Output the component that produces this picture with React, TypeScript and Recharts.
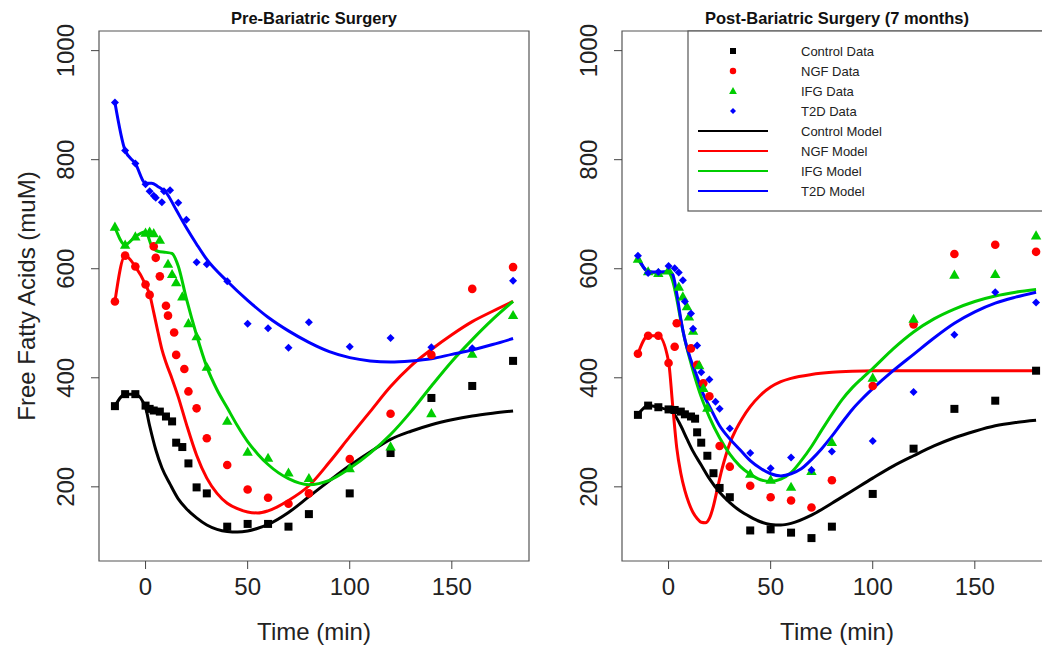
import React from "react";
import { ComposedChart, Scatter, Line, XAxis, YAxis, ReferenceArea } from "recharts";

const FONT = '"Liberation Sans", Arial, Helvetica, sans-serif';
const X_DOMAIN: [number, number] = [-22.8, 187.8];
const Y_DOMAIN: [number, number] = [64, 1036];
const X_TICKS = [0, 50, 100, 150];
const Y_TICKS = [200, 400, 600, 800, 1000];

type Pair = [number, number];

// ---- Pre-surgery data [time, FFA] ----
const preControlData: Pair[] = [
  [-15, 348], [-10, 370], [-5, 370], [0, 349], [2, 343], [4, 340], [7, 338], [10, 329], [13, 320],
  [15, 281], [18, 273], [21, 243], [25, 199], [30, 188], [40, 127], [50, 132], [60, 132], [70, 127],
  [80, 150], [100, 188], [120, 262], [140, 363], [160, 385], [180, 431],
];
const preNgfData: Pair[] = [
  [-15, 540], [-10, 624], [-5, 604], [0, 571], [2, 552], [4, 641], [5, 620], [7, 586], [10, 532],
  [11, 514], [14, 483], [15, 442], [19, 416], [21, 375], [25, 344], [30, 289], [40, 240], [50, 195],
  [60, 180], [70, 169], [80, 188], [100, 251], [120, 334], [140, 442], [160, 563], [180, 603],
];
const preIfgData: Pair[] = [
  [-15, 677], [-10, 644], [-5, 659], [0, 666], [2, 668], [4, 665], [7, 653], [11, 609], [13, 590],
  [15, 575], [18, 549], [21, 500], [25, 476], [30, 420], [40, 321], [50, 264], [60, 253], [70, 226],
  [80, 216], [100, 234], [120, 274], [140, 335], [160, 444], [180, 515],
];
const preT2dData: Pair[] = [
  [-15, 905], [-10, 817], [-5, 793], [0, 755], [2, 742], [4, 734], [5, 730], [8, 722], [9, 742],
  [12, 744], [16, 721], [20, 690], [25, 612], [30, 608], [40, 577], [50, 499], [60, 491], [70, 455],
  [80, 502], [100, 457], [120, 473], [140, 456], [160, 454], [180, 578],
];

// ---- Pre-surgery model curves ----
const preControlModel: Pair[] = [
  [-15, 348], [-10, 370], [-5, 370], [0, 345], [2, 312], [5, 268], [8, 235], [12, 205], [16, 178],
  [20, 160], [25, 143], [30, 130], [35, 122], [40, 118], [45, 117], [50, 119], [55, 124], [60, 131],
  [70, 153], [80, 182], [90, 211], [100, 239], [110, 264], [120, 287], [130, 302], [140, 314],
  [150, 323], [160, 330], [170, 335], [180, 339],
];
const preNgfModel: Pair[] = [
  [-15, 540], [-10, 624], [-5, 604], [0, 571], [2, 553], [4, 520], [6, 485], [8, 452], [10, 428],
  [13, 398], [16, 365], [20, 315], [25, 258], [30, 216], [35, 188], [40, 170], [45, 160], [50, 154],
  [55, 152], [60, 156], [70, 175], [80, 202], [90, 245], [100, 292], [110, 338], [120, 384],
  [130, 422], [140, 452], [150, 479], [160, 503], [170, 522], [180, 540],
];
const preIfgModel: Pair[] = [
  [-15, 676], [-10, 644], [-5, 659], [0, 668], [3, 642], [6, 632], [10, 630], [13, 628], [16, 605],
  [20, 545], [25, 478], [30, 420], [35, 378], [40, 345], [45, 312], [50, 283], [55, 260], [60, 241],
  [70, 215], [80, 204], [90, 212], [100, 234], [110, 262], [120, 296], [130, 338], [140, 385],
  [150, 430], [160, 470], [170, 507], [180, 540],
];
const preT2dModel: Pair[] = [
  [-15, 905], [-10, 817], [-5, 793], [0, 757], [3, 757], [6, 751], [10, 740], [15, 708], [20, 675],
  [25, 645], [30, 617], [40, 577], [50, 542], [60, 511], [70, 486], [80, 465], [90, 448], [100, 437],
  [110, 431], [120, 429], [130, 431], [140, 435], [150, 443], [160, 451], [170, 461], [180, 472],
];

// ---- Post-surgery data ----
const postControlData: Pair[] = [
  [-15, 332], [-10, 349], [-5, 346], [0, 342], [3, 341], [6, 338], [8, 333], [11, 329], [13, 325],
  [14, 300], [16, 281], [19, 257], [22, 225], [25, 198], [30, 181], [40, 120], [50, 122], [60, 116],
  [70, 106], [80, 127], [100, 187], [120, 270], [140, 343], [160, 358], [180, 413],
];
const postNgfData: Pair[] = [
  [-15, 444], [-10, 477], [-5, 477], [0, 427], [3, 457], [4, 500], [11, 454], [14, 424], [17, 390],
  [20, 366], [25, 275], [30, 237], [40, 202], [50, 181], [60, 175], [70, 162], [80, 212], [100, 385],
  [120, 498], [140, 627], [160, 644], [180, 631],
];
const postIfgData: Pair[] = [
  [-15, 618], [-10, 595], [-5, 592], [0, 598], [5, 567], [7, 549], [9, 531], [10, 512], [12, 486],
  [15, 423], [17, 381], [19, 345], [40, 224], [50, 213], [60, 200], [70, 229], [80, 282], [100, 400],
  [120, 508], [140, 589], [160, 590], [180, 661],
];
const postT2dData: Pair[] = [
  [-15, 624], [-10, 592], [-5, 594], [0, 605], [3, 601], [5, 593], [7, 579], [8, 540], [11, 518],
  [12, 490], [14, 459], [16, 410], [20, 397], [23, 356], [25, 343], [30, 307], [40, 262], [50, 234],
  [60, 254], [70, 231], [80, 265], [100, 284], [120, 374], [140, 479], [160, 557], [180, 538],
];

// ---- Post-surgery model curves ----
const postControlModel: Pair[] = [
  [-15, 332], [-10, 349], [-5, 346], [0, 340], [3, 332], [6, 312], [9, 288], [12, 265], [16, 240],
  [20, 215], [25, 190], [30, 171], [35, 156], [40, 145], [45, 136], [50, 131], [55, 130], [60, 133],
  [70, 148], [80, 170], [90, 193], [100, 216], [110, 238], [120, 257], [130, 275], [140, 290],
  [150, 302], [160, 312], [170, 318], [180, 322],
];
const postNgfModel: Pair[] = [
  [-15, 444], [-10, 477], [-5, 477], [0, 430], [2, 350], [4, 272], [6, 225], [8, 193], [10, 170],
  [12, 153], [14, 142], [16, 135], [18, 134], [20, 142], [22, 165], [24, 198], [26, 230], [28, 257],
  [30, 280], [33, 305], [36, 325], [40, 347], [45, 368], [50, 383], [55, 393], [60, 399], [70, 406],
  [80, 410], [90, 412], [100, 413], [120, 413], [140, 413], [160, 413], [180, 413],
];
const postIfgModel: Pair[] = [
  [-15, 618], [-10, 595], [-5, 592], [0, 592], [2, 578], [4, 545], [6, 505], [8, 470], [10, 440],
  [13, 400], [16, 365], [20, 328], [25, 290], [30, 260], [35, 238], [40, 223], [45, 213], [50, 210],
  [55, 214], [60, 226], [65, 248], [70, 274], [75, 304], [80, 333], [85, 360], [90, 382], [95, 400],
  [100, 417], [110, 453], [120, 484], [130, 508], [140, 526], [150, 540], [160, 550], [170, 557],
  [180, 562],
];
const postT2dModel: Pair[] = [
  [-15, 622], [-10, 595], [-5, 594], [0, 595], [2, 590], [4, 555], [6, 508], [8, 470], [11, 432],
  [14, 402], [17, 370], [20, 348], [25, 312], [30, 288], [35, 268], [40, 248], [45, 234], [50, 224],
  [55, 220], [60, 224], [65, 233], [70, 250], [75, 270], [80, 293], [85, 318], [90, 342], [95, 362],
  [100, 380], [110, 413], [120, 443], [130, 473], [140, 500], [150, 521], [160, 537], [170, 548],
  [180, 557],
];

const GROUPS = ["Control", "NGF", "IFG", "T2D"];
const COLORS = ["#000000", "#ff0000", "#00cd00", "#0000ff"];
const SHAPES = ["square", "circle", "triangle", "diamond"];

const toPts = (arr: Pair[]) => arr.map(([t, v]) => ({ t, v }));

function marker(shape: string, cx: number, cy: number, color: string, k = 1) {
  if (shape === "square") {
    const h = 4 * k;
    return <rect x={cx - h} y={cy - h} width={2 * h} height={2 * h} fill={color} />;
  }
  if (shape === "circle") return <circle cx={cx} cy={cy} r={4.3 * k} fill={color} />;
  if (shape === "triangle") {
    const s = 5.2 * k;
    return (
      <path
        d={`M${cx},${cy - s}L${cx + s},${cy + s * 0.75}L${cx - s},${cy + s * 0.75}Z`}
        fill={color}
      />
    );
  }
  const d = 4 * k;
  return <path d={`M${cx},${cy - d}L${cx + d},${cy}L${cx},${cy + d}L${cx - d},${cy}Z`} fill={color} />;
}

const YTick = (props: any) => {
  const { x, y, payload } = props;
  const bx = x - 15;
  return (
    <text
      x={bx}
      y={y}
      transform={`rotate(-90, ${bx}, ${y})`}
      textAnchor="middle"
      fontSize={24}
      fill="#222"
      fontFamily={FONT}
    >
      {payload.value}
    </text>
  );
};

function Panel({
  width,
  axisWidth,
  data,
  models,
}: {
  width: number;
  axisWidth: number;
  data: Pair[][];
  models: Pair[][];
}) {
  return (
    <ComposedChart width={width} height={646} margin={{ top: 31, right: 11, bottom: 0, left: 0 }}>
      <XAxis
        type="number"
        dataKey="t"
        domain={X_DOMAIN}
        ticks={X_TICKS}
        allowDataOverflow
        height={85}
        tickSize={8}
        tickMargin={9}
        axisLine={false}
        tickLine={{ stroke: "#444" }}
        tick={{ fontSize: 24, fill: "#222", fontFamily: FONT }}
        label={{
          value: "Time (min)",
          position: "insideBottom",
          offset: 6,
          fontSize: 24,
          fill: "#222",
          fontFamily: FONT,
        }}
      />
      <YAxis
        type="number"
        dataKey="v"
        domain={Y_DOMAIN}
        ticks={Y_TICKS}
        allowDataOverflow
        width={axisWidth}
        tickSize={8}
        axisLine={false}
        tickLine={{ stroke: "#444" }}
        tick={<YTick />}
      />
      <ReferenceArea
        x1={X_DOMAIN[0]}
        x2={X_DOMAIN[1]}
        y1={Y_DOMAIN[0]}
        y2={Y_DOMAIN[1]}
        fill="none"
        stroke="#555"
        strokeWidth={1.2}
      />
      {data.map((d, i) => (
        <Scatter
          key={"d" + i}
          name={GROUPS[i] + " Data"}
          data={toPts(d)}
          isAnimationActive={false}
          shape={(p: any) => marker(SHAPES[i], p.cx, p.cy, COLORS[i])}
        />
      ))}
      {models.map((m, i) => (
        <Line
          key={"m" + i}
          name={GROUPS[i] + " Model"}
          data={toPts(m)}
          dataKey="v"
          type="monotone"
          stroke={COLORS[i]}
          strokeWidth={3}
          dot={false}
          activeDot={false}
          isAnimationActive={false}
        />
      ))}
    </ComposedChart>
  );
}

export default function App() {
  return (
    <div
      style={{
        position: "absolute",
        left: 0,
        top: 0,
        width: 1042,
        height: 646,
        overflow: "hidden",
        background: "#fff",
        fontFamily: FONT,
      }}
    >
      <div style={{ position: "absolute", left: 0, top: 0 }}>
        <Panel
          width={540}
          axisWidth={99}
          data={[preControlData, preNgfData, preIfgData, preT2dData]}
          models={[preControlModel, preNgfModel, preIfgModel, preT2dModel]}
        />
      </div>
      <div style={{ position: "absolute", left: 520, top: 0 }}>
        <Panel
          width={543}
          axisWidth={102}
          data={[postControlData, postNgfData, postIfgData, postT2dData]}
          models={[postControlModel, postNgfModel, postIfgModel, postT2dModel]}
        />
      </div>
      <svg
        width={1042}
        height={646}
        style={{ position: "absolute", left: 0, top: 0, pointerEvents: "none" }}
        fontFamily={FONT}
      >
        <text x={314} y={24} textAnchor="middle" fontSize={16.5} fontWeight="bold" fill="#111">
          Pre-Bariatric Surgery
        </text>
        <text x={837} y={24} textAnchor="middle" fontSize={16.5} fontWeight="bold" fill="#111">
          Post-Bariatric Surgery (7 months)
        </text>
        <text
          x={35}
          y={296}
          transform="rotate(-90, 35, 296)"
          textAnchor="middle"
          fontSize={24}
          fill="#222"
        >
          Free Fatty Acids (muM)
        </text>
        <rect x={688} y={31} width={400} height={180} fill="#fff" stroke="#555" strokeWidth={1.2} />
        {GROUPS.map((g, i) => (
          <g key={"ld" + i}>
            {marker(SHAPES[i], 733, 51 + i * 20, COLORS[i], 0.75)}
            <text x={801} y={51 + i * 20} dominantBaseline="central" fontSize={13} fill="#222">
              {g} Data
            </text>
          </g>
        ))}
        {GROUPS.map((g, i) => (
          <g key={"lm" + i}>
            <line x1={698} x2={768} y1={131 + i * 20} y2={131 + i * 20} stroke={COLORS[i]} strokeWidth={2} />
            <text x={801} y={131 + i * 20} dominantBaseline="central" fontSize={13} fill="#222">
              {g} Model
            </text>
          </g>
        ))}
      </svg>
    </div>
  );
}
